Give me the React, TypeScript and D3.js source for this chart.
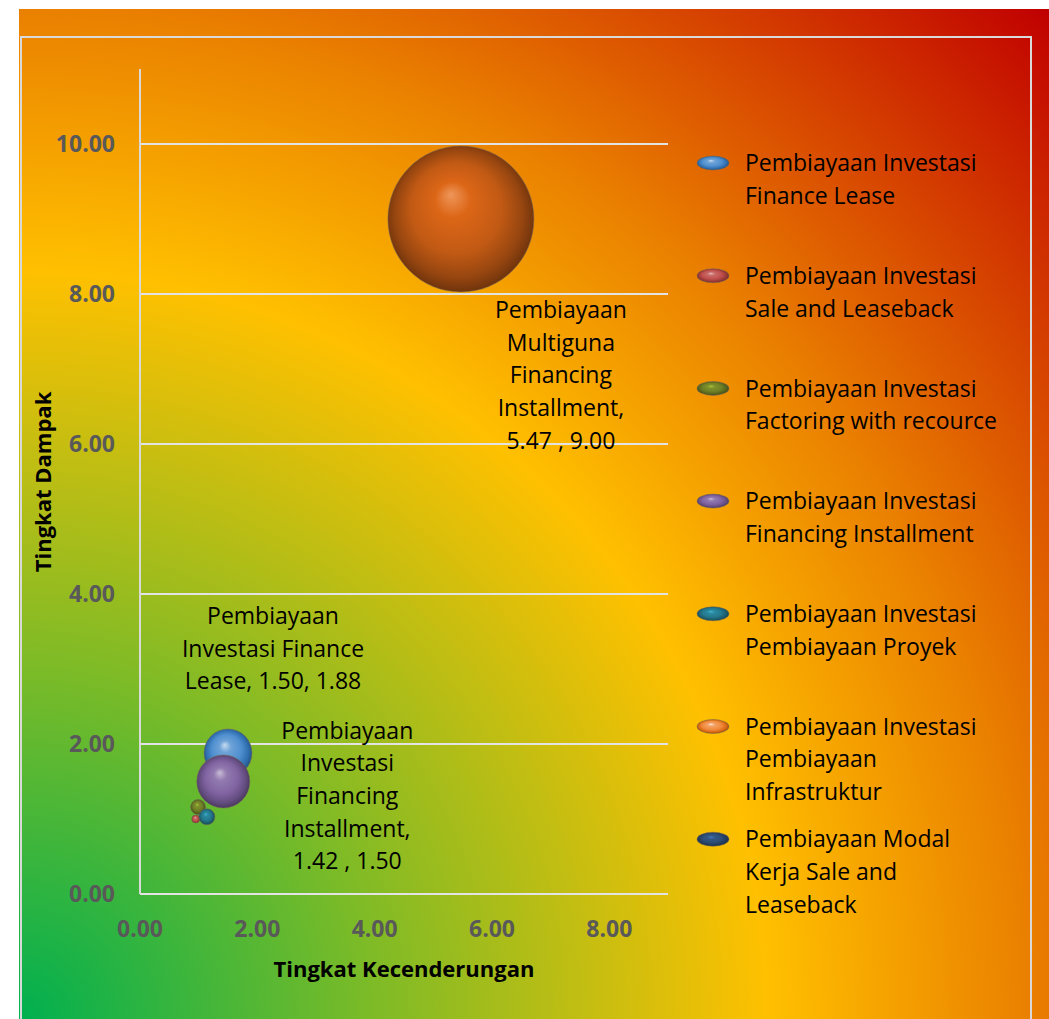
import React from "react";
import * as d3 from "d3";

// Risk map: likelihood (x) vs impact (y), bubble size = exposure weight
const categories = [
  "Pembiayaan Investasi Finance Lease",
  "Pembiayaan Investasi Sale and Leaseback",
  "Pembiayaan Investasi Factoring with recource",
  "Pembiayaan Investasi Financing Installment",
  "Pembiayaan Investasi Pembiayaan Proyek",
  "Pembiayaan Investasi Pembiayaan Infrastruktur",
  "Pembiayaan Modal Kerja Sale and Leaseback",
  "Pembiayaan Multiguna Financing Installment",
];
const xValues: (number | null)[] = [1.5, 0.95, 0.99, 1.42, 1.14, null, null, 5.47];
const yValues: (number | null)[] = [1.88, 1.0, 1.16, 1.5, 1.03, null, null, 9.0];
const sizeValues: (number | null)[] = [10.8, 0.3, 1.05, 13.2, 1.2, null, null, 100];
const seriesColors = ["#4f8fcf", "#c0504d", "#6f7f26", "#8064a2", "#24788c", "#f08a3c", "#2c4d75", "#c25a14"];

// Legend lines (wrapped as rendered)
const legendLines = [
  ["Pembiayaan Investasi", "Finance Lease"],
  ["Pembiayaan Investasi", "Sale and Leaseback"],
  ["Pembiayaan Investasi", "Factoring with recource"],
  ["Pembiayaan Investasi", "Financing Installment"],
  ["Pembiayaan Investasi", "Pembiayaan Proyek"],
  ["Pembiayaan Investasi", "Pembiayaan", "Infrastruktur"],
  ["Pembiayaan Modal", "Kerja Sale and", "Leaseback"],
];

// Data labels shown on selected bubbles
const labelSeries = [0, 3, 7];
const labelLines: Record<number, string[]> = {
  0: ["Pembiayaan", "Investasi Finance", "Lease, 1.50, 1.88"],
  3: ["Pembiayaan", "Investasi", "Financing", "Installment,", "1.42 ,  1.50"],
  7: ["Pembiayaan", "Multiguna", "Financing", "Installment,", "5.47 ,  9.00"],
};
const labelOffsets: Record<number, [number, number]> = {
  0: [45, -137],
  3: [124, -51],
  7: [100, 91],
};

const xTicks = [0, 2, 4, 6, 8];
const yTicks = [0, 2, 4, 6, 8, 10];

const W = 1049;
const H = 1019;
const FONT = "'Open Sans', 'Noto Sans', sans-serif";

function shade(c: string, k: number) {
  const col = d3.hsl(c);
  return k > 0 ? col.brighter(k).formatHex() : col.darker(-k).formatHex();
}

export default function App() {
  const x = d3.scaleLinear().domain([0, 9]).range([140, 668]);
  const y = d3.scaleLinear().domain([0, 11]).range([894, 69]);
  const r = d3.scaleSqrt().domain([0, 100]).range([0, 73]);

  // later series are drawn on top
  const points = categories
    .map((name, i) => ({ name, i, xv: xValues[i], yv: yValues[i], s: sizeValues[i] }))
    .filter((d) => d.xv !== null && d.yv !== null && d.s !== null);

  return (
    <svg
      width={W}
      height={H}
      style={{ position: "absolute", left: 0, top: 0, display: "block" }}
      fontFamily={FONT}
    >
      <defs>
        <radialGradient id="bg" gradientUnits="userSpaceOnUse" cx={19} cy={1019} r={1440}>
          <stop offset="0" stopColor="#00b050" />
          <stop offset="0.25" stopColor="#7fbb26" />
          <stop offset="0.52" stopColor="#ffc000" />
          <stop offset="0.7" stopColor="#ea8000" />
          <stop offset="1" stopColor="#c00000" />
        </radialGradient>
        {seriesColors.map((c, i) => (
          <radialGradient key={i} id={`ball${i}`} cx="0.5" cy="0.5" r="0.56" fx="0.43" fy="0.33">
            <stop offset="0" stopColor={shade(c, 1.2)} />
            <stop offset="0.22" stopColor={shade(c, 0.35)} />
            <stop offset="0.55" stopColor={c} />
            <stop offset="0.78" stopColor={shade(c, -0.7)} />
            <stop offset="1" stopColor={shade(c, -2.2)} />
          </radialGradient>
        ))}
      </defs>

      <rect x={19} y={9} width={W - 19} height={H - 9} fill="url(#bg)" />
      <rect x={21} y={37} width={1010} height={1010} fill="none" stroke="#d9d9d9" strokeWidth={2} />

      {/* gridlines */}
      {yTicks.map((t) => (
        <line key={t} x1={140} x2={668} y1={y(t)} y2={y(t)} stroke="#e3e3e3" strokeWidth={2} />
      ))}
      <line x1={140} x2={140} y1={69} y2={894} stroke="#d9d9d9" strokeWidth={2} />

      {/* tick labels */}
      {yTicks.map((t) => (
        <text
          key={t}
          x={115}
          y={y(t)}
          dy="0.36em"
          textAnchor="end"
          fontWeight="bold"
          fontSize={23}
          fill="#595959"
        >
          {d3.format(".2f")(t)}
        </text>
      ))}
      {xTicks.map((t) => (
        <text
          key={t}
          x={x(t)}
          y={929}
          dy="0.36em"
          textAnchor="middle"
          fontWeight="bold"
          fontSize={23}
          fill="#595959"
        >
          {d3.format(".2f")(t)}
        </text>
      ))}

      {/* axis titles */}
      <text
        transform="translate(43,482) rotate(-90)"
        textAnchor="middle"
        dy="0.36em"
        fontWeight="bold"
        fontSize={22}
        fill="#000"
      >
        Tingkat Dampak
      </text>
      <text x={404} y={969} dy="0.36em" textAnchor="middle" fontWeight="bold" fontSize={22} fill="#000">
        Tingkat Kecenderungan
      </text>

      {/* bubbles */}
      {points.map((d) => (
        <circle
          key={d.i}
          cx={x(d.xv as number)}
          cy={y(d.yv as number)}
          r={r(d.s as number)}
          fill={`url(#ball${d.i})`}
          stroke="#7a6a5a"
          strokeOpacity={0.5}
          strokeWidth={1}
        />
      ))}

      {/* data labels */}
      {labelSeries.map((i) => {
        const cx = x(xValues[i] as number) + labelOffsets[i][0];
        const cy = y(yValues[i] as number) + labelOffsets[i][1];
        return (
          <text key={i} textAnchor="middle" fontSize={23} fill="#000">
            {labelLines[i].map((ln, k) => (
              <tspan key={k} x={cx} y={cy + k * 32.6} dy="0.36em">
                {ln}
              </tspan>
            ))}
          </text>
        );
      })}

      {/* legend */}
      {legendLines.map((lines, i) => {
        const top = 163 + i * 112.7;
        return (
          <g key={i}>
            <ellipse
              cx={713}
              cy={top}
              rx={16}
              ry={7}
              fill={`url(#ball${i})`}
              stroke="#7a6a5a"
              strokeOpacity={0.5}
            />
            <text fontSize={23} fill="#000">
              {lines.map((ln, k) => (
                <tspan key={k} x={745} y={top + k * 32.6} dy="0.36em">
                  {ln}
                </tspan>
              ))}
            </text>
          </g>
        );
      })}
    </svg>
  );
}
